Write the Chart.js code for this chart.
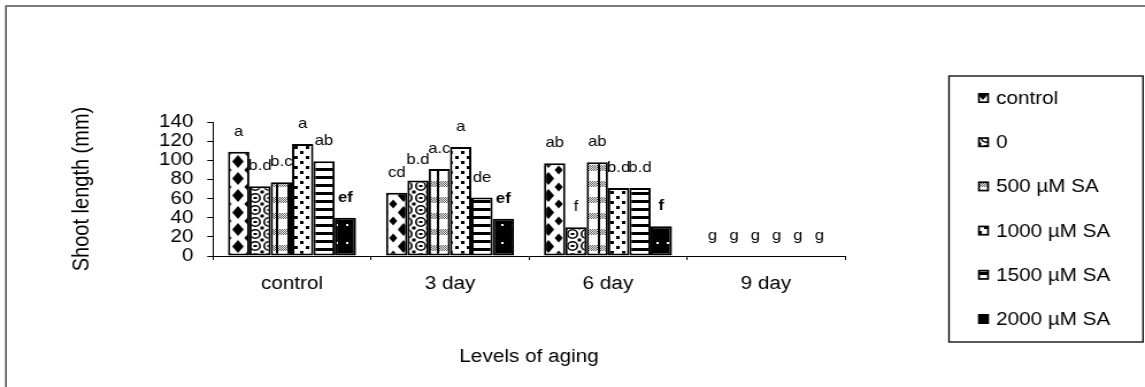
<!DOCTYPE html>
<html><head><meta charset="utf-8">
<script src="https://cdn.jsdelivr.net/npm/chart.js@4.4.1/dist/chart.umd.min.js"></script>
<style>
html,body{margin:0;padding:0;background:#fff;overflow:hidden;}
#wrap{width:996px;height:387px;transform:scaleX(1.1496);transform-origin:0 0;}
canvas{display:block;}
</style></head><body>
<div id="wrap"><canvas id="c" width="996" height="387"></canvas></div>
<script>
// ---- data ----
const categories = ['control', '3 day', '6 day', '9 day'];
const seriesNames = ['control', '0', '500 µM SA', '1000 µM SA', '1500 µM SA', '2000 µM SA'];
const controlVals = [109, 66, 97, 0];
const zeroVals    = [73, 79, 30, 0];
const sa500Vals   = [77, 91, 98, 0];
const sa1000Vals  = [117, 114, 71, 0];
const sa1500Vals  = [99, 61, 71, 0];
const sa2000Vals  = [40, 39, 31, 0];
const controlLetters = ['a', 'cd', 'ab', 'g'];
const zeroLetters    = ['b.d', 'b.d', 'f', 'g'];
const sa500Letters   = ['b.c', 'a.c', 'ab', 'g'];
const sa1000Letters  = ['a', 'a', 'b.d', 'g'];
const sa1500Letters  = ['ab', 'de', 'b.d', 'g'];
const sa2000Letters  = ['ef', 'ef', 'f', 'g'];
const yTicks = [0, 20, 40, 60, 80, 100, 120, 140];

const FONT = "'Liberation Sans', Arial, Helvetica, sans-serif";
const canvas = document.getElementById('c');
const mainCtx = canvas.getContext('2d');

function makePattern(w, h, draw) {
  const t = document.createElement('canvas');
  t.width = w; t.height = h;
  const g = t.getContext('2d');
  draw(g, w, h);
  return mainCtx.createPattern(t, 'repeat');
}
function diamond(g, cx, cy, rx, ry) {
  g.beginPath(); g.moveTo(cx, cy - ry); g.lineTo(cx + rx, cy); g.lineTo(cx, cy + ry); g.lineTo(cx - rx, cy); g.closePath(); g.fill();
}
const patControl = makePattern(18, 17, (g, w, h) => {
  g.fillStyle = '#fff'; g.fillRect(0, 0, w, h);
  g.fillStyle = '#000';
  diamond(g, w / 2, h / 2, 5, 6.5);
  [[0, 0], [w, 0], [0, h], [w, h]].forEach(p => diamond(g, p[0], p[1], 3.5, 4.5));
});
const patZero = makePattern(12, 12, (g, w, h) => {
  g.fillStyle = '#fff'; g.fillRect(0, 0, w, h);
  g.strokeStyle = '#000'; g.lineWidth = 1.6;
  g.beginPath(); g.arc(6, 6, 4.2, 0, Math.PI * 2); g.stroke();
  g.fillStyle = '#000';
  g.fillRect(4.5, 5, 3, 2);
  g.fillRect(0, 0, 1.5, 1.5); g.fillRect(w - 1.5, 0, 1.5, 1.5); g.fillRect(0, h - 1.5, 1.5, 1.5); g.fillRect(w - 1.5, h - 1.5, 1.5, 1.5);
});
const pat500 = makePattern(10, 16, (g, w, h) => {
  g.fillStyle = '#fff'; g.fillRect(0, 0, w, h);
  g.fillStyle = '#555';
  for (let y = 5; y < 11; y++) for (let x = (y % 2); x < w; x += 2) g.fillRect(x, y, 1, 1);
  g.fillStyle = '#000'; g.fillRect(0, 0, 2, h);
});
const pat1000 = makePattern(10, 10, (g, w, h) => {
  g.fillStyle = '#fff'; g.fillRect(0, 0, w, h);
  g.fillStyle = '#000'; g.fillRect(1, 1, 3, 3); g.fillRect(6, 6, 3, 3);
});
const pat1500 = makePattern(4, 8, (g, w, h) => {
  g.fillStyle = '#fff'; g.fillRect(0, 0, w, h);
  g.fillStyle = '#000'; g.fillRect(0, 0, w, 3);
});
const pat2000 = makePattern(9, 18, (g, w, h) => {
  g.fillStyle = '#000'; g.fillRect(0, 0, w, h);
  g.fillStyle = '#fff'; g.fillRect(4, 8, 2, 2);
});

const seriesVals = [controlVals, zeroVals, sa500Vals, sa1000Vals, sa1500Vals, sa2000Vals];
const seriesLetters = [controlLetters, zeroLetters, sa500Letters, sa1000Letters, sa1500Letters, sa2000Letters];
const seriesPatterns = [patControl, patZero, pat500, pat1000, pat1500, pat2000];

const datasets = seriesNames.map((name, i) => ({
  label: name,
  data: seriesVals[i],
  letters: seriesLetters[i],
  letterBold: i === 5 ? [true, true, true, false] : [false, false, false, false],
  backgroundColor: seriesPatterns[i],
  borderColor: '#000',
  borderWidth: 2,
  borderSkipped: false,
  categoryPercentage: 0.81,
  barPercentage: 1.0
}));

const framePlugin = {
  id: 'framePlugin',
  beforeDraw(chart) {
    const ctx = chart.ctx;
    ctx.save();
    ctx.fillStyle = '#fff'; ctx.fillRect(0, 0, chart.width, chart.height);
    ctx.strokeStyle = '#5a5a5a'; ctx.lineWidth = 1.6;
    ctx.strokeRect(5.2, 6, 3000, 3000);
    ctx.restore();
  },
  afterDraw(chart) {
    const ctx = chart.ctx;
    ctx.save();
    ctx.strokeStyle = '#000'; ctx.lineWidth = 1.3;
    ctx.fillStyle = '#fff';
    ctx.fillRect(825.5, 76, 168.8, 266);
    ctx.strokeRect(825.5, 76, 168.8, 266);
    chart.data.datasets.forEach((ds, i) => {
      const cy = 98 + i * 44.2;
      ctx.fillStyle = '#000';
      ctx.fillRect(850.7, cy - 5, 9.6, 10);
      ctx.fillStyle = ds.backgroundColor;
      ctx.fillRect(852.4, cy - 3.3, 6.2, 6.6);
      ctx.fillStyle = '#000';
      ctx.font = '18px ' + FONT;
      ctx.textAlign = 'left'; ctx.textBaseline = 'middle';
      ctx.fillText(ds.label, 866.4, cy + 1);
    });
    ctx.restore();
  }
};
const letterPlugin = {
  id: 'letterPlugin',
  afterDatasetsDraw(chart) {
    const ctx = chart.ctx;
    ctx.save();
    ctx.fillStyle = '#000'; ctx.textAlign = 'center'; ctx.textBaseline = 'middle';
    chart.data.datasets.forEach((ds, i) => {
      const meta = chart.getDatasetMeta(i);
      meta.data.forEach((bar, j) => {
        ctx.font = (ds.letterBold[j] ? 'bold ' : '') + '14.5px ' + FONT;
        ctx.fillText(ds.letters[j], bar.x, bar.y - 20);
      });
    });
    ctx.restore();
  }
};

new Chart(canvas, {
  type: 'bar',
  data: { labels: categories, datasets },
  plugins: [framePlugin, letterPlugin],
  options: {
    responsive: false,
    animation: false,
    events: [],
    layout: { padding: { left: 56, top: 122, right: 261, bottom: 0 } },
    plugins: { legend: { display: false }, tooltip: { enabled: false }, title: { display: false } },
    scales: {
      x: {
        offset: true,
        grid: { drawOnChartArea: false, drawTicks: true, tickLength: 4, color: '#000', offset: true },
        border: { color: '#000', width: 1 },
        ticks: { color: '#000', font: { size: 18, family: FONT }, padding: 13, maxRotation: 0 },
        title: { display: true, text: 'Levels of aging', color: '#000', font: { size: 18, family: FONT }, padding: { top: 0, bottom: 19 } },
        afterFit(s) { s.height = 131; }
      },
      y: {
        min: 0, max: 140,
        afterBuildTicks(s) { s.ticks = yTicks.map(v => ({ value: v })); },
        grid: { drawOnChartArea: false, drawTicks: true, tickLength: 5, color: '#000' },
        border: { color: '#000', width: 1 },
        ticks: { color: '#000', font: { size: 18, family: FONT }, padding: 12, autoSkip: false },
        title: { display: true, text: 'Shoot length (mm)', color: '#000', font: { size: 20, family: FONT }, padding: { top: 3, bottom: 4 } },
        afterFit(s) { s.width = 129.3; }
      }
    }
  }
});
</script>
</body></html>
